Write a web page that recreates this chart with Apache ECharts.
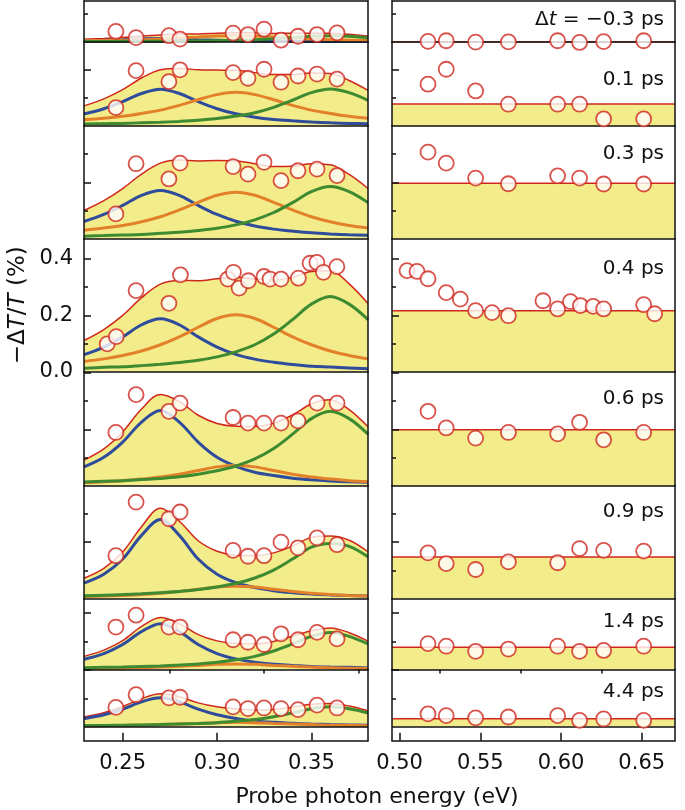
<!DOCTYPE html>
<html>
<head>
<meta charset="utf-8">
<title>Transient spectra</title>
<script src="https://cdn.jsdelivr.net/npm/echarts@6/dist/echarts.min.js"></script>
<style>
    html, body { margin: 0; padding: 0; background: #fff; }
    #spectra { width: 685px; height: 810px; }
</style>
</head>
<body>
<div id="spectra"></div>
<script>
// Pump-probe delays, one row of panels each
var delays = ['Δ{i|t} = −0.3 ps', '0.1 ps', '0.3 ps', '0.4 ps', '0.6 ps', '0.9 ps', '1.4 ps', '4.4 ps'];

// Probe photon energies (eV) of the measured points
var energyLow = [0.2464, 0.2571, 0.2745, 0.2804, 0.3085, 0.3164, 0.3249, 0.3339, 0.3429, 0.3530, 0.3636];
var energyLow04 = [0.2418, 0.2466, 0.2571, 0.2745, 0.2806, 0.3057, 0.3087, 0.3117, 0.3166, 0.3249, 0.3281, 0.3339, 0.3431, 0.3493, 0.3529, 0.3564, 0.3635];
var energyHigh = [0.5176, 0.5289, 0.5471, 0.5674, 0.5979, 0.6115, 0.6264, 0.6512];
var energyHigh04 = [0.5046, 0.5108, 0.5176, 0.5289, 0.5376, 0.5471, 0.5573, 0.5674, 0.5888, 0.5979, 0.6058, 0.6120, 0.6199, 0.6264, 0.6512, 0.6580];

// Measured -dT/T (%), low energy window
var lowPoints = [
    [0.037, 0.015, 0.022, 0.010, 0.031, 0.026, 0.045, 0.006, 0.020, 0.026, 0.032],
    [0.065, 0.196, 0.157, 0.199, 0.189, 0.169, 0.201, 0.155, 0.177, 0.184, 0.166],
    [0.088, 0.266, 0.212, 0.268, 0.256, 0.229, 0.271, 0.206, 0.241, 0.247, 0.224],
    [0.099, 0.125, 0.288, 0.243, 0.344, 0.329, 0.353, 0.297, 0.323, 0.338, 0.329, 0.329, 0.332, 0.385, 0.388, 0.353, 0.373],
    [0.189, 0.323, 0.264, 0.293, 0.242, 0.222, 0.222, 0.222, 0.230, 0.293, 0.293],
    [0.152, 0.342, 0.283, 0.307, 0.171, 0.150, 0.152, 0.200, 0.180, 0.215, 0.191],
    [0.151, 0.193, 0.151, 0.151, 0.106, 0.097, 0.089, 0.127, 0.106, 0.132, 0.109],
    [0.068, 0.113, 0.102, 0.104, 0.070, 0.064, 0.066, 0.064, 0.060, 0.076, 0.066]
];

// Measured -dT/T (%), high energy window
var highPoints = [
    [0.002, 0.004, -0.001, 0.000, 0.004, -0.002, 0.001, 0.004],
    [0.148, 0.201, 0.124, 0.077, 0.077, 0.077, 0.025, 0.025],
    [0.307, 0.268, 0.215, 0.195, 0.223, 0.215, 0.194, 0.194],
    [0.359, 0.356, 0.330, 0.281, 0.258, 0.217, 0.210, 0.199, 0.252, 0.223, 0.249, 0.235, 0.232, 0.223, 0.238, 0.206],
    [0.264, 0.205, 0.169, 0.189, 0.184, 0.225, 0.163, 0.189],
    [0.162, 0.124, 0.103, 0.130, 0.127, 0.177, 0.171, 0.168],
    [0.092, 0.083, 0.065, 0.073, 0.083, 0.065, 0.068, 0.083],
    [0.045, 0.039, 0.031, 0.034, 0.039, 0.022, 0.027, 0.022]
];

var fitEnergy = [0.2295, 0.24, 0.25, 0.26, 0.27, 0.28, 0.29, 0.30, 0.31, 0.32, 0.33, 0.34, 0.35, 0.36, 0.37, 0.38];
var blueFit = [
    [0.004, 0.006, 0.008, 0.011, 0.012, 0.011, 0.008, 0.006, 0.004, 0.003, 0.002, 0.002, 0.001, 0.001, 0.001, 0.001],
    [0.042, 0.061, 0.086, 0.115, 0.130, 0.115, 0.086, 0.061, 0.043, 0.031, 0.023, 0.018, 0.014, 0.011, 0.009, 0.008],
    [0.061, 0.086, 0.118, 0.154, 0.171, 0.154, 0.118, 0.086, 0.062, 0.045, 0.034, 0.027, 0.021, 0.017, 0.014, 0.012],
    [0.061, 0.088, 0.124, 0.167, 0.188, 0.167, 0.124, 0.088, 0.062, 0.045, 0.034, 0.026, 0.020, 0.017, 0.014, 0.011],
    [0.067, 0.101, 0.155, 0.226, 0.267, 0.226, 0.155, 0.101, 0.069, 0.048, 0.036, 0.027, 0.021, 0.017, 0.014, 0.012],
    [0.055, 0.086, 0.140, 0.224, 0.280, 0.224, 0.140, 0.086, 0.056, 0.039, 0.028, 0.021, 0.016, 0.013, 0.011, 0.009],
    [0.037, 0.057, 0.089, 0.135, 0.163, 0.135, 0.089, 0.057, 0.038, 0.026, 0.019, 0.015, 0.011, 0.009, 0.008, 0.006],
    [0.028, 0.042, 0.062, 0.088, 0.102, 0.088, 0.062, 0.042, 0.029, 0.020, 0.015, 0.012, 0.009, 0.007, 0.006, 0.005]
];
var orangeFit = [
    [0.004, 0.005, 0.006, 0.008, 0.010, 0.014, 0.017, 0.021, 0.022, 0.021, 0.017, 0.014, 0.010, 0.008, 0.006, 0.005],
    [0.022, 0.027, 0.034, 0.044, 0.056, 0.073, 0.093, 0.111, 0.119, 0.111, 0.093, 0.073, 0.056, 0.044, 0.034, 0.027],
    [0.030, 0.038, 0.047, 0.060, 0.078, 0.102, 0.129, 0.154, 0.165, 0.154, 0.129, 0.102, 0.078, 0.060, 0.047, 0.038],
    [0.037, 0.046, 0.058, 0.074, 0.096, 0.124, 0.158, 0.189, 0.202, 0.189, 0.158, 0.124, 0.096, 0.074, 0.058, 0.046],
    [0.011, 0.014, 0.018, 0.024, 0.031, 0.041, 0.054, 0.067, 0.072, 0.067, 0.054, 0.041, 0.031, 0.024, 0.018, 0.014],
    [0.007, 0.009, 0.011, 0.014, 0.019, 0.025, 0.033, 0.041, 0.044, 0.041, 0.033, 0.025, 0.019, 0.014, 0.011, 0.009],
    [0.003, 0.004, 0.005, 0.007, 0.009, 0.012, 0.015, 0.019, 0.020, 0.019, 0.015, 0.012, 0.009, 0.007, 0.005, 0.004],
    [0.002, 0.003, 0.004, 0.005, 0.007, 0.009, 0.011, 0.014, 0.015, 0.014, 0.011, 0.009, 0.007, 0.005, 0.004, 0.003]
];
var greenFit = [
    [0.001, 0.001, 0.002, 0.002, 0.002, 0.003, 0.003, 0.004, 0.006, 0.008, 0.011, 0.015, 0.020, 0.022, 0.020, 0.015],
    [0.007, 0.008, 0.009, 0.011, 0.013, 0.016, 0.020, 0.026, 0.035, 0.047, 0.066, 0.091, 0.118, 0.131, 0.118, 0.091],
    [0.009, 0.011, 0.013, 0.015, 0.019, 0.023, 0.029, 0.037, 0.049, 0.067, 0.093, 0.128, 0.167, 0.185, 0.167, 0.128],
    [0.013, 0.016, 0.018, 0.022, 0.027, 0.033, 0.041, 0.053, 0.071, 0.096, 0.134, 0.185, 0.240, 0.267, 0.240, 0.185],
    [0.013, 0.016, 0.018, 0.022, 0.026, 0.032, 0.041, 0.053, 0.070, 0.095, 0.132, 0.183, 0.238, 0.264, 0.238, 0.183],
    [0.010, 0.012, 0.014, 0.017, 0.021, 0.025, 0.032, 0.041, 0.054, 0.073, 0.101, 0.140, 0.182, 0.195, 0.185, 0.148],
    [0.007, 0.008, 0.009, 0.011, 0.013, 0.016, 0.020, 0.026, 0.035, 0.047, 0.066, 0.091, 0.118, 0.132, 0.118, 0.091],
    [0.004, 0.004, 0.005, 0.006, 0.007, 0.009, 0.011, 0.014, 0.019, 0.025, 0.035, 0.048, 0.063, 0.070, 0.063, 0.048]
];
// Flat fit level of the high energy window
var flatFit = [0, 0.078, 0.197, 0.217, 0.199, 0.147, 0.079, 0.028];

// Axis ranges and ticks
var lowRange = [0.2295, 0.380], highRange = [0.4953, 0.6706];
var lowTicks = [0.25, 0.30, 0.35], lowMinorTicks = [0.275, 0.325, 0.375];
var highTicks = [0.50, 0.55, 0.60, 0.65], highMinorTicks = [0.525, 0.575, 0.625];
var yTicks = [0.2, 0.4], yMinorTicks = [0.1, 0.3], yLabels = [0, 0.2, 0.4];
var yMin = [0, 0, 0, 0, 0, 0, 0, -0.05];
var yMax = [0.145, 0.298, 0.4, 0.472, 0.404, 0.4, 0.252, 0.202];


//
// Layout and styles
//

var pxPerUnit = 282;
var font = 'DejaVu Sans';
var ink = '#111';
var colors = { fill: '#f3ec8b', red: '#d0271d', blue: '#2f4c9c', orange: '#e3802a', green: '#3e8a30' };
var labelY = [20, 80, 154, 269, 399, 512, 622, 692];

var chartEl = document.getElementById('spectra');
var chart = echarts.init(chartEl);

var grids = [], xAxes = [], yAxes = [], series = [], graphics = [];

function inRange(list, r) {
    return list.filter(function (v) { return v > yMin[r] + 0.001 && v < yMax[r] - 0.001; });
}

function addPanel(r, side, panelTop, h) {
    var g = grids.length;
    var last = r === 7;
    var range = side ? highRange : lowRange;
    grids.push({ left: side ? 392 : 84, width: side ? 283 : 284, top: panelTop, height: h });

    // bottom axis (row separator, and the energy axis on the last row)
    var xMain = xAxes.length;
    xAxes.push({
        gridIndex: g, type: 'value', min: range[0], max: range[1], z: 10,
        axisLine: { show: true, onZero: false, lineStyle: { color: ink, width: 1.5 } },
        axisTick: last ? { show: true, inside: true, length: 8, customValues: side ? highTicks : lowTicks, lineStyle: { color: ink, width: 1.5 } } : { show: false },
        axisLabel: last ? {
            show: true, customValues: side ? highTicks : lowTicks, margin: 12,
            color: ink, fontSize: 21, fontFamily: font,
            formatter: function (v) { return v.toFixed(2); }
        } : { show: false },
        splitLine: { show: false }
    });
    if (last) {
        xAxes.push({
            gridIndex: g, type: 'value', min: range[0], max: range[1], z: 10,
            axisLine: { show: false, onZero: false },
            axisTick: { show: true, inside: true, length: 4, customValues: side ? highMinorTicks : lowMinorTicks, lineStyle: { color: ink, width: 1.5 } },
            axisLabel: { show: false }, splitLine: { show: false }
        });
    }
    if (r === 0) {
        xAxes.push({
            gridIndex: g, type: 'value', position: 'top', min: range[0], max: range[1], z: 10,
            axisLine: { show: true, onZero: false, lineStyle: { color: ink, width: 1.5 } },
            axisTick: { show: false }, axisLabel: { show: false }, splitLine: { show: false }
        });
    }

    // left axis, long ticks
    var major = inRange(yTicks, r);
    var yMain = yAxes.length;
    var showLabels = (r === 3 && side === 0);
    yAxes.push({
        gridIndex: g, type: 'value', position: 'left', min: yMin[r], max: yMax[r], z: 10,
        axisLine: { show: true, onZero: false, lineStyle: { color: ink, width: 1.5 } },
        axisTick: major.length ? { show: true, inside: true, length: 7, customValues: major, lineStyle: { color: ink, width: 1.5 } } : { show: false },
        axisLabel: showLabels ? {
            show: true, customValues: yLabels, margin: 11, color: ink, fontSize: 21, fontFamily: font,
            formatter: function (v) { return v.toFixed(1); }
        } : { show: false },
        splitLine: { show: false },
        name: showLabels ? '−Δ{i|T}/{i|T} (%)' : '',
        nameLocation: 'middle', nameGap: 54, nameRotate: 90,
        nameTextStyle: {
            color: ink, fontSize: 23, fontFamily: font,
            rich: { i: { fontStyle: 'italic', fontSize: 23, fontFamily: font, color: ink } }
        }
    });
    // left axis, short ticks
    var minor = inRange(yMinorTicks, r);
    yAxes.push({
        gridIndex: g, type: 'value', position: 'left', min: yMin[r], max: yMax[r], z: 10,
        axisLine: { show: false, onZero: false },
        axisTick: minor.length ? { show: true, inside: true, length: 4, customValues: minor, lineStyle: { color: ink, width: 1.5 } } : { show: false },
        axisLabel: { show: false }, splitLine: { show: false }
    });
    // right frame
    yAxes.push({
        gridIndex: g, type: 'value', position: 'right', min: yMin[r], max: yMax[r], z: 10,
        axisLine: { show: true, onZero: false, lineStyle: { color: ink, width: 1.5 } },
        axisTick: { show: false }, axisLabel: { show: false }, splitLine: { show: false }
    });

    var zeroLine = last ? {
        silent: true, symbol: 'none', label: { show: false },
        lineStyle: { color: ink, type: 'solid', width: 1.5 },
        data: [{ yAxis: 0 }]
    } : undefined;

    var marker = {
        type: 'scatter', xAxisIndex: xMain, yAxisIndex: yMain, z: 20, clip: false,
        symbol: 'circle', symbolSize: 15,
        itemStyle: { color: '#fff', borderColor: colors.red, borderWidth: 1.8 }
    };

    if (side === 0) {
        // total of the three components, filled
        var total = fitEnergy.map(function (x, i) {
            return [x, blueFit[r][i] + orangeFit[r][i] + greenFit[r][i]];
        });
        series.push({
            type: 'line', xAxisIndex: xMain, yAxisIndex: yMain, data: total,
            smooth: 0.35, symbol: 'none', z: 2,
            lineStyle: { color: colors.red, width: 1.5 },
            areaStyle: { color: colors.fill, opacity: 1 },
            markLine: zeroLine
        });
        [[blueFit, colors.blue], [orangeFit, colors.orange], [greenFit, colors.green]].forEach(function (c) {
            series.push({
                type: 'line', xAxisIndex: xMain, yAxisIndex: yMain, smooth: 0.35, symbol: 'none', z: 3,
                lineStyle: { color: c[1], width: 3 },
                data: fitEnergy.map(function (x, i) { return [x, c[0][r][i]]; })
            });
        });
        var xs = r === 3 ? energyLow04 : energyLow;
        series.push(Object.assign({}, marker, {
            data: xs.map(function (x, i) { return [x, lowPoints[r][i]]; })
        }));
    } else {
        series.push({
            type: 'line', xAxisIndex: xMain, yAxisIndex: yMain, symbol: 'none', z: 2,
            lineStyle: { color: colors.red, width: 1.5 },
            areaStyle: { color: colors.fill, opacity: 1 },
            data: [[highRange[0], flatFit[r]], [highRange[1], flatFit[r]]],
            markLine: zeroLine
        });
        var xh = r === 3 ? energyHigh04 : energyHigh;
        series.push(Object.assign({}, marker, {
            data: xh.map(function (x, i) { return [x, highPoints[r][i]]; })
        }));

        // delay label
        graphics.push({
            type: 'text', x: 664, y: labelY[r], z: 30,
            style: {
                text: delays[r], textAlign: 'right', textVerticalAlign: 'middle',
                fontSize: 20, fontFamily: font, fill: ink,
                rich: { i: { fontStyle: 'italic', fontSize: 20, fontFamily: font, color: ink } }
            }
        });
    }
}

var rowTop = 1;
for (var r = 0; r < delays.length; r++) {
    var h = (yMax[r] - yMin[r]) * pxPerUnit;
    addPanel(r, 0, rowTop, h);
    addPanel(r, 1, rowTop, h);
    rowTop += h;
}

// Shared energy axis title
graphics.push({
    type: 'text', x: 377, y: 797, z: 30,
    style: {
        text: 'Probe photon energy (eV)', textAlign: 'center', textVerticalAlign: 'middle',
        fontSize: 22, fontFamily: font, fill: ink
    }
});

chart.setOption({
    animation: false,
    backgroundColor: '#fff',
    textStyle: { fontFamily: font },
    grid: grids,
    xAxis: xAxes,
    yAxis: yAxes,
    series: series,
    graphic: graphics
});

// Resize
window.addEventListener('resize', function () {
    chart.resize();
});
</script>
</body>
</html>
